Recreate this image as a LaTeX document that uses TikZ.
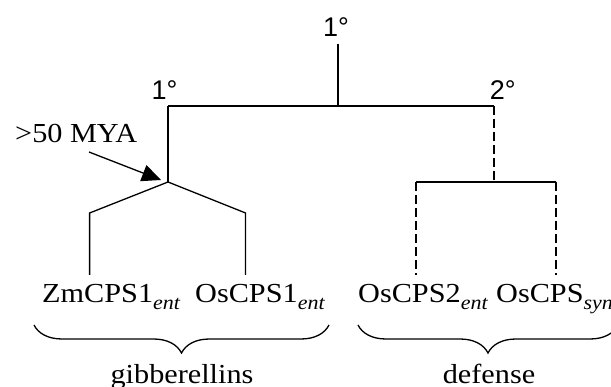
\documentclass[tikz,border=0pt]{standalone}
\usepackage{fontspec}
\setmainfont{Liberation Serif}[FakeStretch=1.1]
\newfontfamily\arialf{Liberation Sans}
\usetikzlibrary{arrows.meta,decorations.pathreplacing}
\newcommand{\mysub}[1]{\raisebox{-7pt}{\fontsize{20}{20}\selectfont\itshape #1}}
\begin{document}
\begin{tikzpicture}[x=1pt,y=1pt,
  lbl/.style={inner sep=0pt,font=\fontsize{27.5}{33}\selectfont},
  deg/.style={inner sep=0pt,font=\arialf\fontsize{27}{32}\selectfont},
  branch/.style={line width=1.3pt,line join=miter},
  dbranch/.style={line width=1.3pt,dash pattern=on 9pt off 4pt},
  bracestyle/.style={line width=1.3pt,decorate,decoration={brace,mirror,amplitude=28pt}},
  arr/.style={line width=1.3pt,-{Triangle[length=19pt,width=17pt]}}]
\useasboundingbox (0,0) rectangle (611,386);
% coordinates of the tree
\coordinate (top) at (338,342);
\coordinate (root) at (338,280);
\coordinate (L) at (168,280);
\coordinate (R) at (494,280);
\coordinate (La) at (168,204);
\coordinate (Ra) at (494,204);
\coordinate (Rl) at (416,204);
\coordinate (Rr) at (556,204);
\coordinate (Lb1) at (89.6,173);
\coordinate (Lb2) at (245.5,173);
\coordinate (Ll1) at (89.6,111);
\coordinate (Ll2) at (245.5,111);
\coordinate (Rl1) at (416,111);
\coordinate (Rr1) at (556,111);
\coordinate (arrstart) at (89,234);
\coordinate (arrtip) at (161,206);
% labels
\node[deg,anchor=base] (t1) at (336,349) {1°};
\node[deg,anchor=base] (t2) at (164.5,286.7) {1°};
\node[deg,anchor=base] (t3) at (502.7,286.7) {2°};
\node[lbl,anchor=base west] (mya) at (15,243) {>50 MYA};
\node[lbl,anchor=base west] (zm1) at (42,83) {ZmCPS1\mysub{ent}};
\node[lbl,anchor=base west] (os1) at (195,83) {OsCPS1\mysub{ent}};
\node[lbl,anchor=base west] (os2) at (358,83) {OsCPS2\mysub{ent}};
\node[lbl,anchor=base west] (oss) at (496,83) {OsCPS\mysub{syn}};
\node[lbl,anchor=base] (gib) at (182,2.5) {gibberellins};
\node[lbl,anchor=base] (def) at (489,2.5) {defense};
% tree
\draw[branch] (top) -- (root);
\draw[branch] (L) -- (R);
\draw[branch] (L) -- (La);
\draw[branch] (Ll1) -- (Lb1) -- (La) -- (Lb2) -- (Ll2);
\draw[dbranch] (R) -- (Ra);
\draw[branch] (Rl) -- (Rr);
\draw[dbranch] (Rl) -- (Rl1);
\draw[dbranch] (Rr) -- (Rr1);
% arrow
\draw[arr] (arrstart) -- (arrtip);
% braces
\draw[bracestyle] (34,61) -- (329,61);
\draw[bracestyle] (358,61) -- (618,61);
\end{tikzpicture}
\end{document}
